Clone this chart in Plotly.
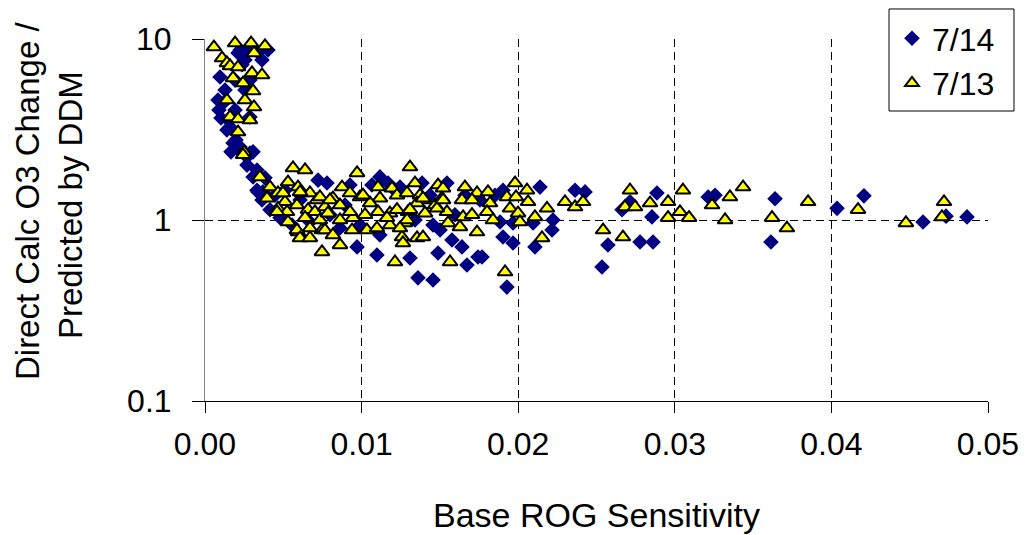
import plotly.graph_objects as go

# 7/14 series (diamonds)
d14_x = [0.00224, 0.00275, 0.00338, 0.00402, 0.00364, 0.00255, 0.00096, 0.00115, 0.00083, 0.00089,
         0.00102, 0.00140, 0.00160, 0.00147, 0.00179, 0.00224, 0.00307, 0.00192, 0.00255, 0.00192,
         0.00287, 0.00211, 0.00198, 0.00166, 0.00268, 0.00236, 0.00287, 0.00128, 0.00287, 0.00268,
         0.00307, 0.00332, 0.00338, 0.00370, 0.00383, 0.00332, 0.00722, 0.00779, 0.01117, 0.01245,
         0.01386, 0.01545, 0.01903, 0.02139, 0.01456, 0.01501, 0.01884, 0.01967, 0.02095, 0.01903,
         0.01967, 0.02107, 0.00971, 0.01098, 0.01309, 0.01488, 0.01577, 0.01641, 0.01673, 0.01743,
         0.01360, 0.01456, 0.01928, 0.02216, 0.02222, 0.01769, 0.02363, 0.02427, 0.02663, 0.02714,
         0.02886, 0.02854, 0.02573, 0.02535, 0.02778, 0.02861, 0.03213, 0.03257, 0.03640, 0.03614,
         0.04036, 0.04208, 0.04585, 0.04732, 0.04866, 0.00364, 0.00415, 0.00479, 0.00556, 0.00670,
         0.00798, 0.00894, 0.01066, 0.01169, 0.01213, 0.01437, 0.01660, 0.01756, 0.01852, 0.00990,
         0.01117, 0.01341, 0.01596, 0.00607, 0.00511, 0.00926, 0.00447, 0.00862]
d14_y = [8.69, 8.92, 8.47, 8.69, 7.66, 7.66, 6.17, 4.42, 4.6, 4.05,
         3.66, 3.14, 3.26, 3.57, 2.66, 2.53, 2.38, 5.93, 5.23, 4.05,
         3.71, 8.37, 2.77, 2.38, 2.23, 7.2, 5.93, 5.23, 2.34, 2.01,
         1.73, 1.89, 1.43, 1.43, 1.71, 1.46, 1.66, 1.60, 1.73, 1.52,
         1.60, 1.60, 1.46, 1.52, 0.938, 0.88, 0.975, 0.963, 0.963, 0.805,
         0.747, 0.71, 0.71, 0.641, 0.617, 0.657, 0.775, 0.71, 0.564, 0.625,
         0.479, 0.466, 0.426, 0.88, 1.0, 0.625, 1.46, 1.43, 1.14, 1.26,
         1.41, 1.04, 0.728, 0.55, 0.756, 0.756, 1.34, 1.37, 1.31, 0.756,
         1.16, 1.36, 0.975, 1.05, 1.04, 1.29, 1.14, 1.03, 0.938, 0.975,
         1.07, 1.21, 1.56, 1.60, 1.46, 1.37, 1.37, 1.29, 1.37, 0.938,
         0.827, 1.0, 1.07, 1.29, 1.46, 1.56, 1.37, 0.903]

# 7/13 series (triangles)
d13_x = [0.00057, 0.00192, 0.00294, 0.00383, 0.00313, 0.00109, 0.00140, 0.00160, 0.00211, 0.00300,
         0.00364, 0.00179, 0.00243, 0.00307, 0.00140, 0.00255, 0.00313, 0.00160, 0.00211, 0.00287,
         0.00211, 0.00249, 0.00243, 0.00351, 0.00415, 0.00530, 0.00562, 0.00639, 0.00594, 0.00396,
         0.00466, 0.00511, 0.00619, 0.00670, 0.00715, 0.00466, 0.00524, 0.00587, 0.00658, 0.00702,
         0.00766, 0.00530, 0.00594, 0.00639, 0.00747, 0.00747, 0.00460, 0.00498, 0.00607, 0.00734,
         0.00817, 0.00734, 0.00862, 0.00587, 0.00670, 0.00766, 0.00607, 0.00670, 0.00817, 0.00862,
         0.00875, 0.00971, 0.00785, 0.00926, 0.00798, 0.00990, 0.00862, 0.00945, 0.00926, 0.00939,
         0.01309, 0.01105, 0.01194, 0.01117, 0.01226, 0.01341, 0.01373, 0.01488, 0.01520, 0.01405,
         0.01022, 0.01054, 0.01105, 0.01181, 0.01296, 0.01354, 0.01469, 0.01405, 0.01545, 0.01034,
         0.01098, 0.01181, 0.01277, 0.01258, 0.01354, 0.01392, 0.01213, 0.01009, 0.01290, 0.01392,
         0.01513, 0.01226, 0.01309, 0.01481, 0.01162, 0.01290, 0.01245, 0.01264, 0.01565, 0.01660,
         0.01737, 0.01807, 0.01980, 0.02056, 0.01520, 0.01641, 0.01705, 0.01820, 0.01928, 0.01986,
         0.02063, 0.02184, 0.02299, 0.01648, 0.01705, 0.01801, 0.01839, 0.01948, 0.01999, 0.02011,
         0.02107, 0.01552, 0.01628, 0.01737, 0.02152, 0.01916, 0.02363, 0.02414, 0.02542, 0.02669,
         0.02714, 0.02682, 0.02746, 0.02842, 0.02957, 0.02957, 0.03033, 0.03052, 0.03091, 0.03238,
         0.03352, 0.03321, 0.03436, 0.03621, 0.03716, 0.03851, 0.04170, 0.04476, 0.04706, 0.04719]
d13_y = [9.03, 9.5, 9.5, 9.15, 8.37, 7.85, 7.37, 7.1, 7.0, 6.49,
         6.33, 6.09, 5.71, 5.16, 4.6, 4.6, 4.21, 3.71, 3.61, 3.57,
         3.06, 2.38, 2.29, 1.73, 1.52, 1.62, 1.94, 1.89, 1.52, 1.32,
         1.41, 1.26, 1.41, 1.41, 1.29, 1.16, 1.11, 1.21, 1.14, 1.11,
         1.18, 0.975, 0.858, 1.03, 0.88, 0.666, 1.11, 1.41, 1.43, 1.34,
         1.32, 1.0, 1.0, 0.88, 0.903, 0.88, 0.796, 0.796, 0.827, 0.728,
         1.52, 1.82, 1.09, 1.41, 1.29, 1.34, 1.21, 1.03, 1.11, 0.88,
         1.96, 1.52, 1.50, 1.32, 1.37, 1.60, 1.37, 1.56, 1.50, 1.29,
         1.07, 1.24, 1.11, 1.09, 1.11, 1.24, 1.21, 1.09, 1.11, 0.88,
         0.903, 0.938, 0.963, 0.805, 0.796, 0.805, 0.586, 1.37, 1.41, 1.32,
         1.32, 1.14, 1.14, 1.16, 1.03, 1.0, 0.903, 0.747, 0.586, 1.52,
         1.41, 1.43, 1.60, 1.46, 1.29, 1.29, 1.29, 1.24, 1.34, 1.34,
         1.26, 1.16, 1.26, 1.04, 1.07, 1.11, 1.0, 1.16, 1.09, 0.975,
         1.04, 0.963, 0.915, 0.858, 0.796, 0.516, 1.18, 1.26, 0.88, 0.805,
         1.46, 1.18, 1.18, 1.24, 1.26, 1.03, 1.11, 1.46, 1.03, 1.21,
         1.34, 1.0, 1.52, 1.03, 0.903, 1.26, 1.14, 0.963, 1.04, 1.26]

x_ticks = [0.0, 0.01, 0.02, 0.03, 0.04, 0.05]
x_ticktext = ["0.00", "0.01", "0.02", "0.03", "0.04", "0.05"]
y_ticks = [0.1, 1, 10]
y_ticktext = ["0.1", "1", "10"]
y_title_lines = ["Direct Calc O3 Change /", "Predicted by DDM"]
x_title = "Base ROG Sensitivity"

FONT = "Liberation Sans, Arial, sans-serif"

fig = go.Figure()
fig.add_trace(go.Scatter(
    x=d14_x, y=d14_y, mode="markers", name="7/14", cliponaxis=False,
    marker=dict(symbol="diamond", size=12, color="#000080", line=dict(width=0)),
))
fig.add_trace(go.Scatter(
    x=d13_x, y=d13_y, mode="markers", name="7/13", cliponaxis=False,
    marker=dict(symbol="triangle-up", size=13, color="#FFFF00",
                line=dict(width=2, color="black")),
))

# page body has an 8px margin: shrink the figure so it fits the 1030x535 window
fig.update_layout(
    width=1022, height=527,
    margin=dict(l=197, r=42, t=31, b=134, autoexpand=False),
    paper_bgcolor="white", plot_bgcolor="white",
    font=dict(family=FONT, size=32, color="black"),
    showlegend=True,
    legend=dict(x=0.8774, y=1.0773, xanchor="left", yanchor="top",
                borderwidth=0, bgcolor="rgba(0,0,0,0)",
                font=dict(size=32), itemsizing="constant", tracegroupgap=0),
    shapes=[dict(type="rect", xref="paper", yref="paper",
                 x0=0.8736, x1=1.0332, y0=0.8011, y1=1.0829,
                 line=dict(color="black", width=1), fillcolor="white", layer="below")],
    xaxis=dict(range=[0, 0.05], tickvals=x_ticks, ticktext=x_ticktext,
               showline=True, linecolor="black", linewidth=1,
               ticks="outside", ticklen=11, tickcolor="black",
               showgrid=True, gridcolor="black", gridwidth=1, griddash="8px,5px",
               zeroline=False, tickfont=dict(size=32), ticklabelstandoff=4),
    yaxis=dict(type="log", range=[-1, 1], tickvals=y_ticks, ticktext=y_ticktext,
               showline=True, linecolor="#808080", linewidth=1,
               ticks="outside", ticklen=12, tickcolor="black",
               showgrid=True, gridcolor="black", gridwidth=1, griddash="8px,5px",
               zeroline=False, tickfont=dict(size=32), ticklabelstandoff=14),
    annotations=[
        dict(text=x_title, xref="paper", yref="paper",
             x=0.5, y=-0.315, xanchor="center", yanchor="middle",
             showarrow=False, font=dict(size=34)),
        dict(text=y_title_lines[0], xref="paper", yref="paper",
             x=-0.2260, y=0.5525, xanchor="center", yanchor="middle", textangle=-90,
             showarrow=False, font=dict(size=33)),
        dict(text=y_title_lines[1], xref="paper", yref="paper",
             x=-0.1724, y=0.5414, xanchor="center", yanchor="middle", textangle=-90,
             showarrow=False, font=dict(size=33)),
    ],
)

fig.write_html("out.html")
